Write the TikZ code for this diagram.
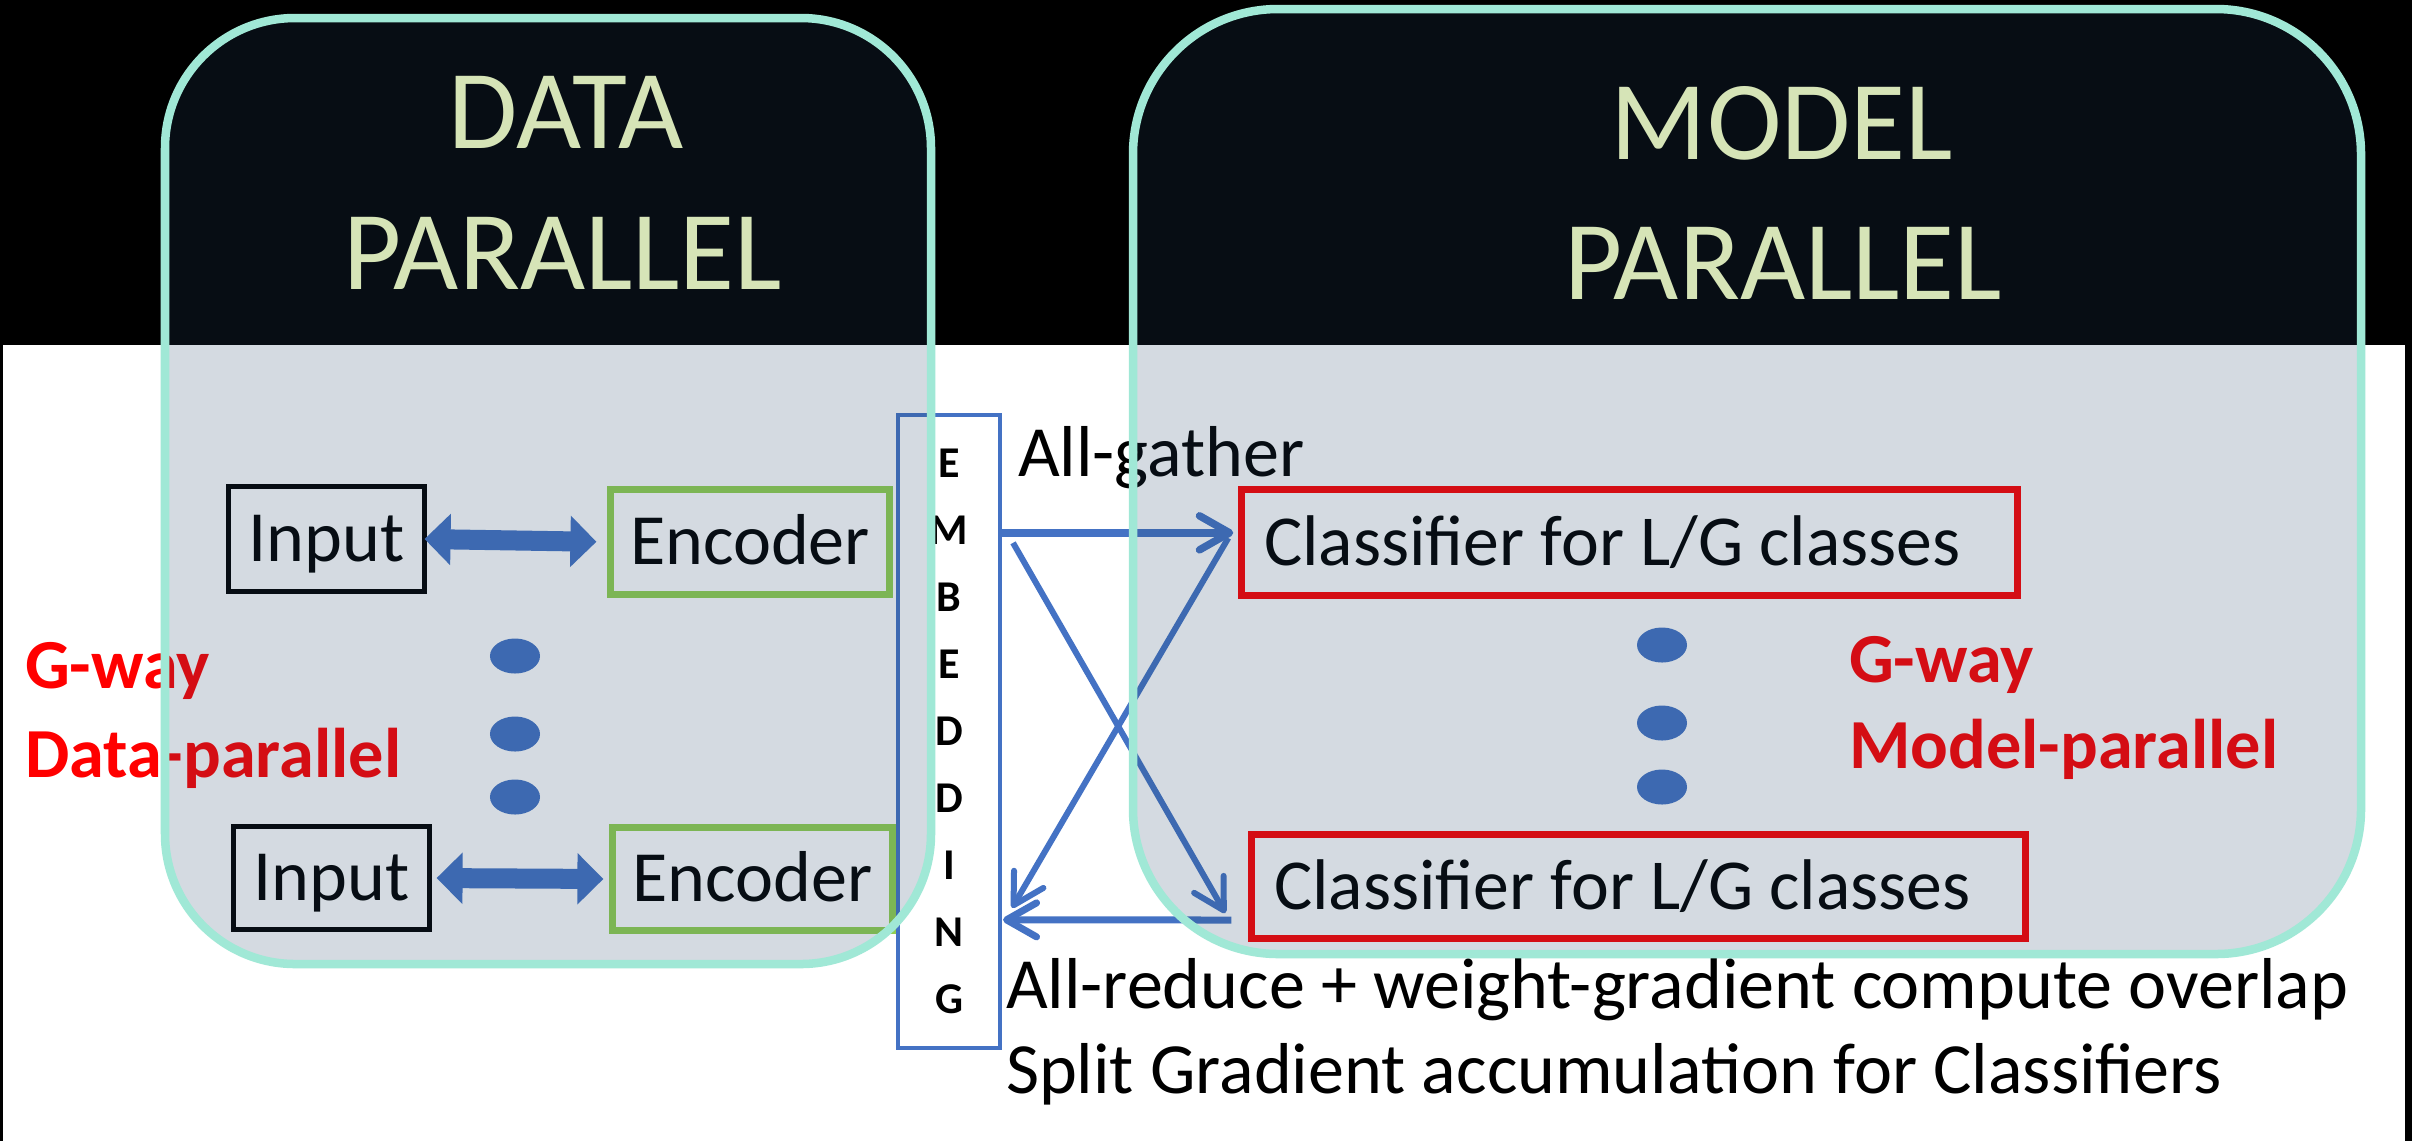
\documentclass[tikz,border=0pt]{standalone}
\usepackage{fontspec}
\setmainfont{Carlito}
\usetikzlibrary{arrows.meta,calc,shapes.geometric}

\definecolor{panelfill}{RGB}{36,71,102}
\definecolor{panelrim}{RGB}{160,232,214}
\definecolor{titlegreen}{RGB}{214,228,183}
\definecolor{linkblue}{RGB}{68,114,196}
\definecolor{encgreen}{RGB}{146,208,80}
\definecolor{clsred}{RGB}{255,0,0}

\tikzset{
  every node/.style={inner sep=0pt, outer sep=0pt},
  boxtext/.style={font=\fontsize{20.5}{24}\selectfont, text height=0.455cm, text depth=0cm},
  inbox/.style={boxtext, draw=black, line width=0.055cm},
  encbox/.style={boxtext, draw=encgreen, line width=0.07cm},
  clsbox/.style={font=\fontsize{20.4}{24}\selectfont, text height=0.452cm, text depth=0cm,
    draw=clsred, line width=0.07cm, inner xsep=0.23cm, align=flush left},
  embbox/.style={draw=linkblue, line width=0.04cm, align=center,
    font=\bfseries\fontsize{12.5}{19.05}\selectfont},
  lbl/.style={font=\fontsize{20.5}{24}\selectfont, anchor=base west},
  redlbl/.style={font=\bfseries\fontsize{20}{24}\selectfont, text=clsred, anchor=base west},
  ttl/.style={font=\fontsize{32}{38}\selectfont, text=titlegreen, anchor=base},
  dot/.style={ellipse, fill=linkblue, minimum width=0.5cm, minimum height=0.35cm},
  fatarrow/.style={draw=linkblue, line width=0.2cm,
    {Triangle[length=0.26cm,width=0.5cm]}-{Triangle[length=0.26cm,width=0.5cm]}},
  link/.style={draw=linkblue, line width=0.06cm,
    -{Straight Barb[length=0.3cm,width=0.34cm,round]}},
  panel/.style={fill=panelfill, fill opacity=0.196, draw=panelrim, line width=0.085cm}
}

\begin{document}
\begin{tikzpicture}[x=0.01cm, y=-0.01cm]
  \useasboundingbox (0,0) rectangle (2412,1141);

  % backdrop: white sheet, black header band and thin side edges
  \fill[white] (0,0) rectangle (2412,1141);
  \fill[black] (0,0) rectangle (2412,345);
  \fill[black] (0,0) rectangle (3,1141);
  \fill[black] (2405,0) rectangle (2412,1141);

  % data-parallel replicas
  \node[inbox, minimum width=1.96cm, minimum height=1.05cm] (in1) at (326.5,539) {Input};
  \node[inbox, minimum width=1.96cm, minimum height=1.03cm] (in2) at (331.5,878) {Input};
  \node[encbox, minimum width=2.79cm, minimum height=1.05cm] (enc1) at (750,542) {Encoder};
  \node[encbox, minimum width=2.80cm, minimum height=1.03cm] (enc2) at (752.5,879) {Encoder};

  \draw[fatarrow, shorten >=0.14cm] (in1.east) -- (enc1.west);
  \draw[fatarrow, shorten <=0.07cm, shorten >=0.09cm] (in2.east) -- (enc2.west);

  \node[dot] (dl1) at (515,656) {};
  \node[dot] (dl2) at (515,734) {};
  \node[dot] (dl3) at (515,797) {};

  \node[redlbl] (gwl) at (25,688) {G-way};
  \node[redlbl] (dpl) at (25,777) {Data-parallel};

  % shared embedding column
  \node[embbox, minimum width=1.02cm, minimum height=6.33cm] (emb) at (949,731.5)
    {E\\M\\B\\E\\D\\D\\I\\N\\G};

  % model-parallel classifier shards
  \node[clsbox, text width=7.30cm, minimum height=1.06cm] (c1) at (1629.5,542.5)
    {Classifier for L/G classes};
  \node[clsbox, text width=7.28cm, minimum height=1.04cm] (c2) at (1638.5,886.5)
    {Classifier for L/G classes};

  \node[dot] (dr1) at (1662,645) {};
  \node[dot] (dr2) at (1662,723) {};
  \node[dot] (dr3) at (1662,787) {};

  \node[redlbl] (gwr) at (1849,682) {G-way};
  \node[redlbl] (mpr) at (1849,768) {Model-parallel};

  % communication between embedding and classifiers
  \coordinate (gA) at ($(emb.north east)+(0,118)$);
  \draw[link, line width=0.075cm, shorten >=0.08cm] (gA) -- (c1.west |- gA);
  \draw[link] ($(emb.north east)+(13,128)$) -- ($(c2.west)+(-26,26.5)$);
  \draw[link] ($(c1.west)+(-13,-4.5)$) -- ($(emb.north east)+(12,493)$);
  \draw[link, line width=0.07cm] ($(c2.west)+(-20,33.5)$) -- ($(emb.north east)+(3,505)$);

  \node[lbl] (ag) at (1018,476) {All-gather};
  \node[lbl] (ar) at (1006,1008) {All-reduce + weight-gradient compute overlap};
  \node[lbl] (sg) at (1006,1093) {Split Gradient accumulation for Classifiers};

  % translucent rounded panels
  \draw[panel, rounded corners=1.3cm] (165,18) rectangle (931,964);
  \draw[panel, rounded corners=1.45cm] (1133,9) rectangle (2361,954);

  % panel headings
  \node[ttl] (tA) at (566,148) {DATA};
  \node[ttl] (tB) at (563,289) {PARALLEL};
  \node[ttl] (tC) at (1782,159) {MODEL};
  \node[ttl] (tD) at (1783,299) {PARALLEL};
\end{tikzpicture}
\end{document}
